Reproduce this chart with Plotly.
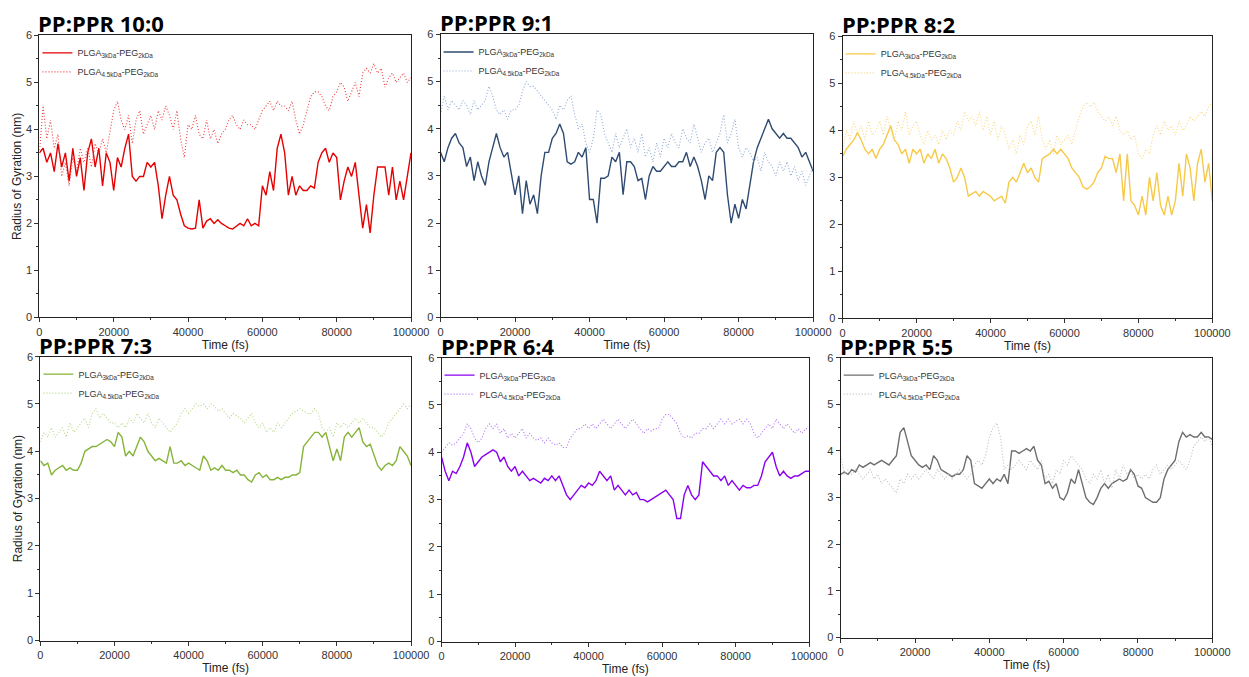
import plotly.graph_objects as go

time_fs = [i * 1000 for i in range(101)]

r10_3k = [3.5,3.6,3.3,3.5,3.1,3.7,3.2,3.5,2.9,3.6,3.0,3.4,2.7,3.5,3.8,3.2,3.6,2.8,3.5,3.3,
          2.7,3.4,3.2,3.6,3.9,3.0,2.9,3.0,3.0,3.3,3.2,3.3,2.8,2.1,2.6,3.0,2.6,2.5,2.2,1.95,
          1.9,1.88,1.9,2.5,1.9,2.05,2.1,2.0,2.08,2.0,1.95,1.9,1.88,1.95,2.0,1.95,2.1,1.95,2.0,1.95,
          2.8,2.6,3.1,2.7,3.6,3.9,3.5,2.6,3.0,2.6,2.8,2.7,2.7,2.8,2.75,3.3,3.5,3.6,3.3,3.5,
          3.4,2.5,2.9,3.2,3.0,3.3,2.6,1.9,2.4,1.8,2.6,3.2,3.2,3.2,2.6,3.2,2.5,2.9,2.5,3.0,3.5]
r10_45k = [3.5,4.5,3.8,4.2,3.6,3.9,3.0,3.3,2.8,3.4,3.1,3.6,3.3,3.6,3.2,3.7,3.5,3.8,3.5,4.0,
           4.4,4.6,4.2,4.0,4.3,3.7,4.2,4.4,3.9,4.1,4.3,4.0,4.4,4.2,4.5,4.3,4.0,4.4,3.8,3.4,
           4.1,4.0,4.3,3.9,3.8,4.2,3.8,4.0,3.7,3.9,4.0,4.2,4.3,4.1,4.0,4.2,4.1,4.1,4.0,4.2,
           4.4,4.5,4.6,4.4,4.6,4.5,4.5,4.4,4.6,4.2,3.9,4.1,4.4,4.7,4.8,4.8,4.7,4.5,4.4,4.7,
           4.8,5.0,4.9,4.6,4.8,5.0,4.7,5.2,5.3,5.2,5.4,5.2,5.3,4.9,5.1,5.2,5.0,5.1,5.2,5.0,5.1]

r91_3k = [3.5,3.3,3.6,3.8,3.9,3.7,3.6,3.2,3.4,2.9,3.3,3.0,2.8,3.3,3.6,3.9,3.6,3.4,3.5,3.0,
          2.6,3.0,2.2,2.9,2.4,2.6,2.2,3.0,3.5,3.5,3.8,3.9,4.1,3.9,3.3,3.25,3.3,3.5,3.4,3.6,
          2.5,2.5,2.0,2.95,2.95,3.0,3.4,3.3,3.5,2.6,3.3,3.3,3.2,2.9,2.95,2.5,3.0,3.2,3.1,3.1,
          3.2,3.3,3.2,3.2,3.3,3.3,3.5,3.2,3.4,3.2,2.9,2.5,3.0,2.9,3.5,3.6,3.5,2.6,2.0,2.4,
          2.1,2.5,2.3,2.8,3.3,3.6,3.8,4.0,4.2,4.0,3.9,3.8,3.9,3.8,3.8,3.7,3.6,3.4,3.5,3.3,3.1]
r91_45k = [4.3,4.7,4.4,4.6,4.5,4.4,4.6,4.5,4.3,4.6,4.4,4.5,4.6,4.9,4.7,4.4,4.3,4.4,4.2,4.4,
           4.4,4.5,4.8,5.0,4.9,4.9,4.8,4.7,4.6,4.5,4.4,4.2,4.5,4.4,4.6,4.7,4.3,4.0,4.1,3.7,
           3.5,3.8,4.4,4.3,3.9,3.7,3.5,3.9,3.6,3.8,4.0,3.6,3.8,3.5,3.9,3.4,3.6,3.3,3.7,3.4,
           3.8,3.6,3.9,3.7,3.6,4.0,3.8,3.7,4.1,3.8,3.5,3.7,3.8,3.5,3.7,3.9,4.3,3.7,3.9,4.2,
           3.6,3.4,3.6,3.5,3.3,3.4,3.1,3.5,3.3,3.2,3.0,3.3,3.1,3.3,3.0,3.2,2.9,3.1,2.8,3.0,3.2]

r82_3k = [3.45,3.6,3.7,3.8,3.95,3.8,3.6,3.5,3.6,3.4,3.6,3.7,3.9,4.1,3.8,3.7,3.5,3.6,3.3,3.6,
          3.5,3.6,3.3,3.5,3.4,3.6,3.3,3.5,3.4,3.2,2.9,3.0,3.2,3.0,2.6,2.65,2.7,2.6,2.7,2.65,
          2.6,2.5,2.55,2.6,2.45,2.9,3.0,2.9,3.1,3.3,3.1,3.2,3.0,2.9,3.4,3.45,3.5,3.6,3.5,3.6,
          3.5,3.4,3.2,3.1,3.0,2.8,2.75,2.8,2.9,3.1,3.2,3.45,3.4,3.4,3.1,3.5,2.5,3.5,2.5,2.4,
          2.2,2.6,2.2,3.0,2.5,3.1,2.4,2.2,2.6,2.2,2.5,3.3,2.6,3.5,3.2,2.5,3.3,3.6,2.9,3.3,2.5]
r82_45k = [3.6,4.0,3.8,4.2,3.9,4.1,3.8,4.2,3.9,4.0,4.2,3.9,4.3,4.0,3.8,4.2,4.0,4.4,3.9,4.1,
           4.2,3.9,3.7,4.0,3.8,3.9,3.7,4.0,3.8,4.0,3.9,4.2,4.0,4.4,4.2,4.3,4.1,4.4,4.0,4.3,
           3.9,4.2,3.8,4.1,3.9,3.6,3.8,3.5,3.9,3.7,4.1,4.2,3.9,4.3,3.8,3.6,3.8,3.5,3.9,3.7,
           3.8,3.9,3.7,4.0,4.3,4.5,4.6,4.5,4.6,4.4,4.3,4.2,4.3,4.1,4.3,4.0,3.9,4.0,3.8,3.9,
           3.5,3.4,3.6,3.5,3.9,4.1,3.9,4.2,4.0,4.1,3.9,4.2,4.0,4.1,4.3,4.2,4.3,4.4,4.3,4.5,4.6]

r73_3k = [3.8,3.7,3.75,3.5,3.6,3.65,3.7,3.6,3.65,3.6,3.6,3.75,4.0,4.05,4.1,4.1,4.15,4.2,4.25,4.2,
          4.1,4.4,4.3,3.9,4.0,3.9,4.1,4.3,4.2,4.0,3.9,3.8,3.85,3.8,3.75,4.1,3.75,3.75,3.8,3.7,
          3.75,3.7,3.65,3.6,3.9,3.8,3.6,3.65,3.6,3.7,3.6,3.6,3.55,3.6,3.5,3.5,3.4,3.35,3.5,3.55,
          3.45,3.5,3.4,3.4,3.45,3.4,3.45,3.45,3.5,3.5,3.55,4.1,4.2,4.3,4.4,4.4,4.3,4.4,4.1,3.8,
          4.05,3.8,4.3,4.4,4.3,4.4,4.5,4.2,4.1,4.15,3.9,3.7,3.6,3.7,3.75,3.7,3.8,4.1,4.0,3.9,3.7]
r73_45k = [4.2,4.4,4.3,4.5,4.3,4.4,4.5,4.3,4.6,4.4,4.5,4.6,4.7,4.5,4.8,4.9,4.7,4.8,4.7,4.6,
           4.6,4.5,4.6,4.5,4.7,4.6,4.8,4.7,4.6,4.8,4.6,4.5,4.7,4.6,4.5,4.4,4.5,4.6,4.8,4.9,
           4.8,4.9,5.0,4.95,5.0,4.9,5.0,4.95,4.85,4.9,4.8,4.7,4.8,4.75,4.7,4.6,4.7,4.8,4.6,4.5,
           4.6,4.4,4.5,4.4,4.6,4.5,4.6,4.7,4.8,4.85,4.9,4.85,4.8,4.8,4.9,4.8,4.5,4.4,4.5,4.3,
           4.6,4.5,4.6,4.5,4.6,4.7,4.6,4.7,4.6,4.5,4.5,4.4,4.3,4.4,4.6,4.7,4.8,4.9,5.0,4.9,5.0]

r64_3k = [3.9,3.6,3.4,3.6,3.55,3.7,3.9,4.2,4.0,3.7,3.8,3.9,3.95,4.0,4.05,4.0,3.8,3.9,3.7,3.6,
          3.7,3.5,3.6,3.5,3.4,3.45,3.4,3.35,3.45,3.4,3.5,3.4,3.5,3.3,3.1,3.0,3.1,3.2,3.3,3.25,
          3.35,3.3,3.4,3.6,3.5,3.4,3.5,3.2,3.3,3.2,3.1,3.2,3.1,3.15,3.0,3.0,2.95,3.0,3.05,3.1,
          3.15,3.2,3.1,3.0,2.6,2.6,3.1,3.3,3.1,3.0,3.1,3.8,3.7,3.6,3.5,3.5,3.4,3.5,3.3,3.4,
          3.3,3.2,3.3,3.25,3.25,3.3,3.3,3.5,3.8,3.9,4.0,3.7,3.5,3.6,3.5,3.45,3.5,3.5,3.55,3.6,3.6]
r64_45k = [4.0,4.1,4.2,4.15,4.2,4.3,4.4,4.6,4.5,4.3,4.2,4.3,4.5,4.6,4.5,4.6,4.4,4.5,4.3,4.4,
           4.3,4.4,4.5,4.3,4.4,4.3,4.25,4.3,4.2,4.3,4.2,4.15,4.2,4.1,4.1,4.3,4.4,4.5,4.5,4.6,
           4.5,4.6,4.5,4.6,4.7,4.6,4.5,4.6,4.7,4.6,4.5,4.6,4.7,4.6,4.5,4.4,4.5,4.45,4.5,4.5,
           4.7,4.8,4.8,4.7,4.6,4.4,4.3,4.35,4.3,4.4,4.4,4.5,4.5,4.6,4.5,4.6,4.7,4.6,4.7,4.6,
           4.65,4.7,4.6,4.7,4.6,4.4,4.3,4.4,4.5,4.6,4.5,4.7,4.6,4.5,4.6,4.5,4.4,4.5,4.4,4.5,4.5]

r55_3k = [3.5,3.55,3.5,3.6,3.55,3.7,3.65,3.7,3.75,3.7,3.75,3.8,3.75,3.7,3.8,3.9,4.4,4.5,4.2,3.9,
          3.8,3.7,3.65,3.7,3.6,3.9,3.8,3.6,3.55,3.5,3.45,3.5,3.5,3.6,3.9,3.8,3.3,3.25,3.2,3.3,
          3.4,3.3,3.4,3.35,3.5,3.3,4.0,4.0,3.95,4.0,4.05,4.0,4.1,3.8,3.7,3.3,3.35,3.2,3.3,3.0,
          2.95,3.1,3.4,3.3,3.6,3.3,3.0,2.9,2.85,3.0,3.2,3.3,3.2,3.3,3.35,3.4,3.35,3.4,3.6,3.5,
          3.25,3.2,3.0,2.95,2.9,2.9,3.0,3.4,3.6,3.7,3.8,4.2,4.4,4.3,4.35,4.3,4.3,4.4,4.3,4.3,4.25]
r55_45k = [3.9,3.5,3.6,3.5,3.6,3.5,3.4,3.5,3.6,3.4,3.5,3.3,3.4,3.3,3.2,3.1,3.4,3.3,3.5,3.4,
           3.5,3.4,3.5,3.6,3.5,3.4,3.6,3.5,3.4,3.5,3.4,3.5,3.6,3.5,3.4,3.5,3.7,3.8,3.7,3.9,
           4.3,4.5,4.6,4.3,3.6,3.7,3.6,3.7,3.8,3.7,3.6,3.8,3.7,3.6,3.8,3.4,3.5,3.3,3.6,3.5,
           3.8,3.7,3.9,3.8,3.7,3.6,3.4,3.3,3.5,3.4,3.6,3.3,3.5,3.2,3.6,3.4,3.7,3.5,3.6,3.4,
           3.5,3.4,3.5,3.4,3.6,3.7,3.5,3.6,3.7,3.6,3.7,3.8,3.7,3.6,3.8,4.1,4.2,4.3,4.2,4.3,4.1]

panel_titles = ["PP:PPR 10:0", "PP:PPR 9:1", "PP:PPR 8:2", "PP:PPR 7:3", "PP:PPR 6:4", "PP:PPR 5:5"]
series_3k = [r10_3k, r91_3k, r82_3k, r73_3k, r64_3k, r55_3k]
series_45k = [r10_45k, r91_45k, r82_45k, r73_45k, r64_45k, r55_45k]
colors_3k = ["#e60000", "#2f4b72", "#f7c948", "#86b33a", "#8a00f0", "#6e6e6e"]
colors_45k = ["#ee3a3a", "#8ea9d2", "#f7d67a", "#b5d585", "#b070f2", "#bdbdbd"]
name_3k = "PLGA<sub>3kDa</sub>-PEG<sub>2kDa</sub>"
name_45k = "PLGA<sub>4.5kDa</sub>-PEG<sub>2kDa</sub>"

W, H = 1249, 677
# pixel boxes: left, right, top, bottom
boxes = [(37, 415, 30, 317), (445, 824, 29, 317), (854, 1230, 31, 318),
         (38, 415, 357, 646), (446, 820, 358, 647), (852, 1230, 358, 643)]

fig = go.Figure()
layout = dict(width=W, height=H, margin=dict(l=0, r=0, t=0, b=0),
              paper_bgcolor="white", plot_bgcolor="white", showlegend=True)
annotations = []
for i in range(6):
    k = "" if i == 0 else str(i + 1)
    lg = "legend" if i == 0 else "legend" + str(i + 1)
    L, R, T, B = boxes[i]
    fig.add_trace(go.Scatter(x=time_fs, y=series_3k[i], mode="lines", name=name_3k,
                             line=dict(color=colors_3k[i], width=1.4),
                             xaxis="x" + k, yaxis="y" + k, legend=lg))
    fig.add_trace(go.Scatter(x=time_fs, y=series_45k[i], mode="lines", name=name_45k,
                             line=dict(color=colors_45k[i], width=1.1, dash="1px,2px"),
                             xaxis="x" + k, yaxis="y" + k, legend=lg))
    ax = dict(domain=[L / W, R / W], range=[0, 100000], tickvals=[0, 20000, 40000, 60000, 80000, 100000],
              ticktext=["0", "20000", "40000", "60000", "80000", "100000"],
              ticks="outside", ticklen=4, tickcolor="#333", showline=True, linecolor="#222", linewidth=1,
              mirror=True, showgrid=False, zeroline=False, anchor="y" + k,
              tickfont=dict(family="Arial", size=11, color="#333"),
              minor=dict(ticks="outside", ticklen=2, dtick=10000, tick0=0, tickcolor="#333"),
              title=dict(text="Time (fs)", font=dict(family="Arial", size=12, color="#222"), standoff=3))
    ay = dict(domain=[1 - B / H, 1 - T / H], range=[0, 6], dtick=1, ticks="outside", ticklen=4,
              tickcolor="#333", showline=True, linecolor="#222", linewidth=1, mirror=True,
              showgrid=False, zeroline=False, anchor="x" + k,
              tickfont=dict(family="Arial", size=11, color="#333"),
              minor=dict(ticks="outside", ticklen=2, dtick=0.5, tickcolor="#333"))
    if i in (0, 3):
        ay["title"] = dict(text="Radius of Gyration (nm)", font=dict(family="Arial", size=12, color="#222"), standoff=1)
    layout["xaxis" + k] = ax
    layout["yaxis" + k] = ay
    layout[lg] = dict(x=(L - 2) / W, y=1 - (T + 3) / H, xanchor="left", yanchor="top",
                      bgcolor="rgba(0,0,0,0)", font=dict(family="Arial", size=9, color="#333"),
                      tracegroupgap=0, itemwidth=30)
    annotations.append(dict(text="<b>" + panel_titles[i] + "</b>", x=L / W, y=1 - (T + 5) / H,
                            xref="paper", yref="paper", xanchor="left", yanchor="bottom", showarrow=False,
                            xshift=-3, font=dict(family="Open Sans", size=22, color="black")))
layout["annotations"] = annotations
fig.update_layout(**layout)
fig.write_html("out.html")
